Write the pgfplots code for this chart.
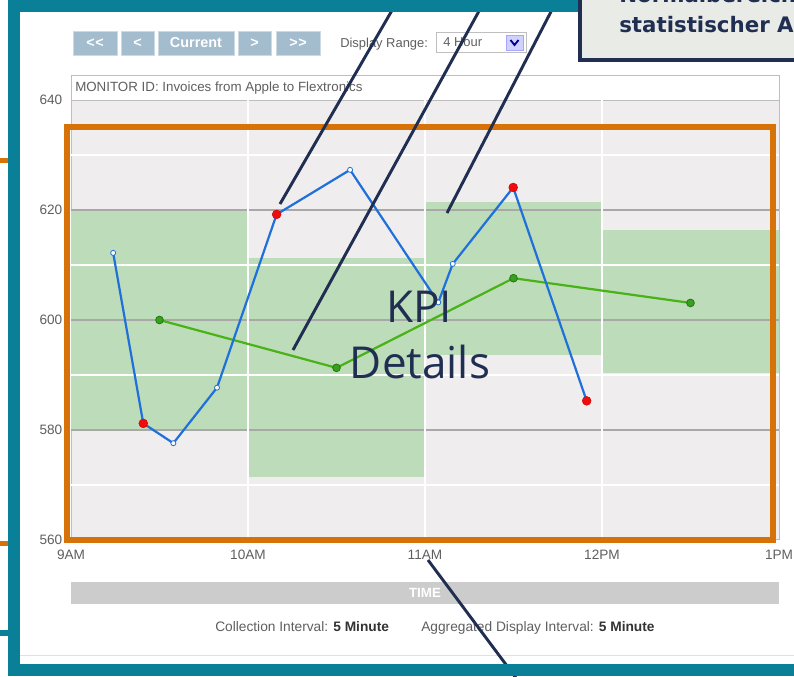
\documentclass[border=0pt]{standalone}
\usepackage{pgfplots}
\pgfplotsset{compat=1.18}
\usepackage{fontspec}
\setmainfont{Liberation Sans}[Ligatures=NoCommon]
\newfontfamily\kpifont{Open Sans}
\newfontfamily\boxfont{DejaVu Sans}
\definecolor{frameteal}{RGB}{9,128,152}
\definecolor{orng}{RGB}{214,114,8}
\definecolor{navy}{RGB}{32,46,82}
\definecolor{bandgreen}{RGB}{189,220,185}
\definecolor{plotbg}{RGB}{239,237,238}
\definecolor{bluel}{RGB}{31,112,219}
\definecolor{greenl}{RGB}{72,178,22}
\definecolor{greenm}{RGB}{56,160,30}
\definecolor{greend}{RGB}{34,120,20}
\definecolor{btn}{RGB}{163,188,206}
\definecolor{btnedge}{RGB}{205,218,228}
\definecolor{boxfill}{RGB}{233,235,231}
\definecolor{gridgray}{RGB}{168,168,168}
\definecolor{framegray}{RGB}{190,190,190}
\definecolor{txtgray}{RGB}{95,95,95}
\definecolor{timebar}{RGB}{204,204,204}
\definecolor{redm}{RGB}{240,12,12}
\newcommand\btn[3]{%
  \filldraw[fill=btn, draw=btnedge, line width=0.75pt] (#1,31) rectangle (#2,55);
  \node[text=white, font=\bfseries\fontsize{10.8}{12}\selectfont] at ({(#1+#2)/2},43) {#3};}
\begin{document}
\begin{tikzpicture}[x=0.75pt,y=-0.75pt]
\useasboundingbox (0,0) rectangle (794,676);
\begin{scope}
\clip (0,0) rectangle (794,676);
\fill[white] (0,0) rectangle (794,676);
% bits of the page outside the frame
\fill[orng] (0,158) rectangle (8,163);
\fill[orng] (0,541) rectangle (8,546);
\fill[frameteal] (0,630) rectangle (8,636);
\fill[orng] (231,0) rectangle (236,5);
\fill[frameteal] (283,0) rectangle (296,6);
% navigation buttons
\btn{73}{117}{{<}\kern0.5pt{<}}
\btn{121}{154}{<}
\btn{158}{234}{Current}
\btn{238}{271}{>}
\btn{276}{320}{{>}\kern0.5pt{>}}
\node[anchor=base west, inner sep=0, text=txtgray, font=\fontsize{9.7}{12}\selectfont] at (340,47) {Display Range:};
\filldraw[fill=white, draw=black!25] (436,32) rectangle (526,52);
\node[anchor=base west, inner sep=0, text=txtgray, font=\fontsize{9.7}{12}\selectfont] at (443,46.5) {4 Hour};
\filldraw[fill=blue!18!white, draw=blue!35!white] (506,35) rectangle (523,50);
\draw[blue!60!black, line width=1.4pt] (510.5,40)--(514.5,45)--(518.5,40);
% monitor header
\filldraw[fill=white, draw=framegray, line width=0.75pt] (71,75) rectangle (779,100);
\node[anchor=base west, inner sep=0, text=txtgray, font=\fontsize{10}{12}\selectfont] at (75,91.5) {MONITOR ID: Invoices from Apple to Flextronics};
% chart
\coordinate (ax) at (71,100);
\begin{axis}[at={(ax)}, anchor=north west, scale only axis,
  width=531pt, height=330pt,
  xmin=0, xmax=240, ymin=560, ymax=640,
  axis background/.style={fill=plotbg},
  axis line style={draw=framegray, line width=0.75pt},
  xtick={0,60,120,180,240}, xticklabels={9AM,10AM,11AM,12PM,1PM},
  ytick={560,580,600,620,640},
  major tick length=0pt, tick style={draw=none},
  /pgf/number format/assume math mode=true,
  ticklabel style={font=\fontsize{10.2}{12}\selectfont, text=txtgray},
  xticklabel style={yshift=-4pt},
  yticklabel style={xshift=-3pt},
]
% normal ranges
\addplot[fill=bandgreen, draw=none, forget plot] coordinates {(0,580) (60,580) (60,620) (0,620)} -- cycle;
\addplot[fill=bandgreen, draw=none, forget plot] coordinates {(60,571.5) (120,571.5) (120,611.2) (60,611.2)} -- cycle;
\addplot[fill=bandgreen, draw=none, forget plot] coordinates {(120,593.6) (180,593.6) (180,621.5) (120,621.5)} -- cycle;
\addplot[fill=bandgreen, draw=none, forget plot] coordinates {(180,590.4) (240,590.4) (240,616.4) (180,616.4)} -- cycle;
% grid
\pgfplotsinvokeforeach{570,590,610,630}{\draw[white, line width=1.5pt] (axis cs:0,#1) -- (axis cs:240,#1);}
\pgfplotsinvokeforeach{580,600,620}{\draw[gridgray, line width=1.1pt] (axis cs:0,#1) -- (axis cs:240,#1);}
\pgfplotsinvokeforeach{60,120,180}{\draw[white, line width=1.5pt] (axis cs:#1,560) -- (axis cs:#1,640);}
% aggregated values
\addplot[greenl, line width=1.65pt, mark=*, mark size=2.9pt, mark options={fill=greenm, draw=greend, line width=0.6pt}]
  coordinates {(30,600.0) (90,591.3) (150,607.6) (210,603.1)};
% collected values
\addplot[bluel, line width=1.65pt, mark=*, mark size=1.9pt, mark options={fill=white, draw=bluel, line width=0.6pt}]
  coordinates {(14.3,612.2) (24.5,581.2) (34.7,577.6) (49.5,587.7) (69.7,619.2) (94.6,627.3) (124.5,603.2) (129.4,610.2) (149.9,624.1) (174.8,585.3)};
% out-of-range values
\addplot[only marks, mark=*, mark size=3.3pt, mark options={fill=redm, draw=redm!85!black, line width=0.4pt}]
  coordinates {(24.5,581.2) (69.7,619.2) (149.9,624.1) (174.8,585.3)};
\end{axis}
% time bar and footer
\fill[timebar] (71,582) rectangle (779,604);
\node[text=white, font=\bfseries\fontsize{10}{12}\selectfont] at (425,593) {TIME};
\node[anchor=base west, inner sep=0, text=txtgray, font=\fontsize{10.3}{12}\selectfont] at (215,631.5) {Collection Interval: {\bfseries\color{black!80}5 Minute}};
\node[anchor=base west, inner sep=0, text=txtgray, font=\fontsize{10.3}{12}\selectfont] at (421,631.5) {Aggregated Display Interval: {\bfseries\color{black!80}5 Minute}};
\draw[black!12, line width=0.75pt] (20,655) -- (794,655);
% annotation overlay
\draw[orng, line width=4.5pt] (67,127) rectangle (773,540);
\node[anchor=base, inner sep=0, text=navy, font=\kpifont\fontsize{33}{40}\selectfont] at (419,322) {KPI};
\node[anchor=base, inner sep=0, text=navy, font=\kpifont\fontsize{33}{40}\selectfont] at (420,378) {Details};
\draw[navy, line width=2.2pt] (400.9,-5) -- (280,204);
\draw[navy, line width=2.2pt] (487.8,-5) -- (293,350);
\draw[navy, line width=2.2pt] (559.6,-5) -- (447,213);
\draw[navy, line width=2.2pt] (428,560) -- (516,678);
\draw[frameteal, line width=9pt] (14,6) rectangle (830,669.5);
\filldraw[fill=boxfill, draw=navy, line width=2.6pt] (580,-20) rectangle (840,60);
\node[anchor=base west, inner sep=0, text=navy, font=\boxfont\bfseries\fontsize{16}{18}\selectfont] at (619,2) {Normalbereich aus};
\node[anchor=base west, inner sep=0, text=navy, font=\boxfont\bfseries\fontsize{16}{18}\selectfont] at (619,32) {statistischer Abweichung};
\end{scope}
\end{tikzpicture}
\end{document}
